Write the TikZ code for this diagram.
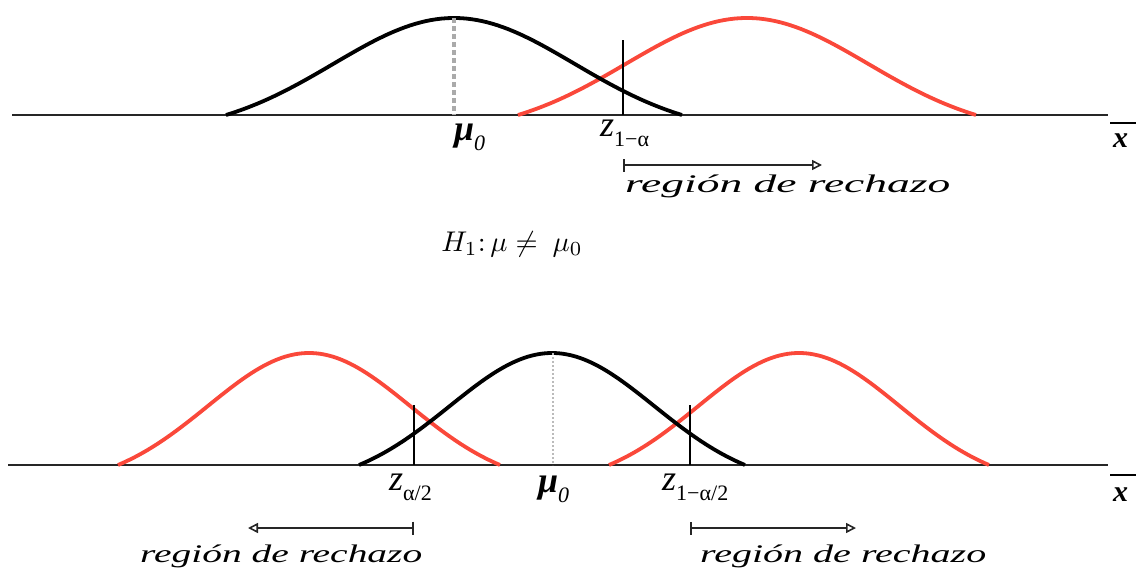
\documentclass[tikz,border=0pt]{standalone}
\usepackage{fontspec}
\setmainfont{Liberation Serif}
\usetikzlibrary{arrows.meta}
\definecolor{bellred}{RGB}{250,72,58}
\definecolor{meangray}{RGB}{170,170,170}
\newcommand{\bellcurve}[5]{\draw[#1] plot[domain=-1.89:1.89,samples=90,variable=\t] ({#2+#3*\t/1.89},{#4-#5*(exp(-\t*\t/2)-0.1676)/0.8324});}
\newcommand{\lowsub}[1]{\raisebox{-0.28em}{\fontsize{22}{24}\selectfont\upshape #1}}
\tikzset{
  axisline/.style={line width=2.6pt, black!85},
  nullcurve/.style={line width=3.8pt, black},
  altcurve/.style={line width=3.8pt, bellred},
  critline/.style={line width=2.2pt, black},
  meanline/.style={line width=4pt, meangray, dash pattern=on 5pt off 3pt},
  meanlinethin/.style={line width=1.5pt, meangray!80, dash pattern=on 2pt off 2pt},
  rejarrow/.style={line width=2.2pt, black!85, {Bar[width=13pt,line width=2.2pt]}-{Triangle[open,length=10pt,width=10pt,line width=1.6pt]}},
  lbl/.style={inner sep=0pt, font=\fontsize{36}{38}\selectfont\itshape},
  rej/.style={inner sep=0pt},
  xbar/.style={inner sep=0pt, font=\fontsize{30}{32}\selectfont\bfseries\itshape}
}
\begin{document}
\begin{tikzpicture}[x=1pt,y=-1pt]
\useasboundingbox (0,0) rectangle (1136,571);
% ---------- top panel ----------
\coordinate (tA1) at (12,115);
\coordinate (tA2) at (1108,115);
\draw[axisline] (tA1) -- (tA2);
\bellcurve{altcurve}{747}{229}{115}{97}
\bellcurve{nullcurve}{454}{228}{115}{97}
\coordinate (tMtop) at (454,18);
\coordinate (tMbot) at (454,115);
\draw[meanline] (tMtop) -- (tMbot);
\coordinate (tCtop) at (623,40);
\coordinate (tCbot) at (623,115);
\draw[critline] (tCtop) -- (tCbot);
\node[lbl, anchor=base west] (tmu) at (454,140) {\textbf{μ}\lowsub{\itshape 0}};
\node[lbl, anchor=base west] (tz) at (600,136) {z\lowsub{1−α}};
\coordinate (tR1) at (623,165);
\coordinate (tR2) at (822,165);
\draw[rejarrow] (tR1) -- (tR2);
\node[rej, anchor=west] (trej) at (625,186) {\resizebox*{325pt}{23pt}{\itshape región de rechazo}};
\node[xbar, anchor=base west] (txbar) at (1113,147) {x};
\coordinate (tB1) at (1110,123);
\coordinate (tB2) at (1136,123);
\draw[line width=2.4pt] (tB1) -- (tB2);
% ---------- hypothesis ----------
\node[inner sep=0pt] (h1) at (512,244) {\scalebox{2.85}{$H_1\colon \mu \neq\ \mu_0$}};
% ---------- bottom panel ----------
\coordinate (bA1) at (8,465);
\coordinate (bA2) at (1108,465);
\draw[axisline] (bA1) -- (bA2);
\bellcurve{altcurve}{309}{191}{465}{112}
\bellcurve{altcurve}{799}{190}{465}{112}
\bellcurve{nullcurve}{552}{193}{465}{112}
\coordinate (bMtop) at (553,353);
\coordinate (bMbot) at (553,465);
\draw[meanlinethin] (bMtop) -- (bMbot);
\coordinate (bL1) at (414,405);
\coordinate (bL2) at (414,465);
\draw[critline] (bL1) -- (bL2);
\coordinate (bR1) at (690,405);
\coordinate (bR2) at (690,465);
\draw[critline] (bR1) -- (bR2);
\node[lbl, anchor=base west] (bz1) at (389,490) {z\lowsub{α/2}};
\node[lbl, anchor=base west] (bmu) at (538,492) {\textbf{μ}\lowsub{\itshape 0}};
\node[lbl, anchor=base west] (bz2) at (662,490) {z\lowsub{1−α/2}};
\coordinate (bLa1) at (414,528);
\coordinate (bLa2) at (248,528);
\draw[rejarrow] (bLa1) -- (bLa2);
\coordinate (bRa1) at (690,528);
\coordinate (bRa2) at (856,528);
\draw[rejarrow] (bRa1) -- (bRa2);
\node[rej, anchor=west] (brej1) at (140,556) {\resizebox*{282pt}{23pt}{\itshape región de rechazo}};
\node[rej, anchor=west] (brej2) at (700,556) {\resizebox*{286pt}{23pt}{\itshape región de rechazo}};
\node[xbar, anchor=base west] (bxbar) at (1113,501) {x};
\coordinate (bB1) at (1110,475);
\coordinate (bB2) at (1136,475);
\draw[line width=2.4pt] (bB1) -- (bB2);
\end{tikzpicture}
\end{document}
